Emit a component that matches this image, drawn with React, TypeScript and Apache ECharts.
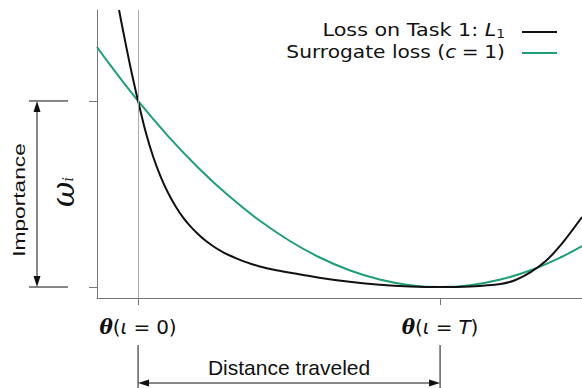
import React, { useEffect, useRef } from 'react';
import * as echarts from 'echarts';

// θ positions (0 = start of training on task, 1 = end T)
const lossX = [-0.063, -0.05, -0.025, 0, 0.025, 0.05, 0.075, 0.1, 0.125, 0.15, 0.175, 0.2, 0.225, 0.25, 0.275, 0.3, 0.325, 0.35, 0.375, 0.4, 0.45, 0.5, 0.6, 0.7, 0.8, 0.9, 1.0, 1.1, 1.2, 1.25, 1.3, 1.35, 1.4, 1.47];
const lossY = [1.489, 1.38, 1.18, 1.0, 0.834, 0.7, 0.592, 0.504, 0.432, 0.372, 0.323, 0.282, 0.247, 0.218, 0.193, 0.172, 0.154, 0.138, 0.124, 0.112, 0.093, 0.078, 0.05, 0.028, 0.012, 0.003, 0, 0.003, 0.016, 0.038, 0.08, 0.14, 0.226, 0.376];
const surrX = [-0.136, -0.1, 0, 0.1, 0.2, 0.3, 0.4, 0.5, 0.6, 0.7, 0.8, 0.9, 1.0, 1.1, 1.2, 1.3, 1.4, 1.47];
const surrY = [1.29, 1.21, 1.0, 0.81, 0.64, 0.49, 0.36, 0.25, 0.16, 0.09, 0.04, 0.01, 0, 0.01, 0.04, 0.09, 0.16, 0.22];
const xTickValues = [0, 1];
const xTickLabels = ['{t|θ}({i|ι}{e|=}0)', '{t|θ}({i|ι}{e|=}{i|T})'];
const yTickValues = [0, 1];
const legendLabels = ['Loss on Task 1: {i|L}{s|1}', 'Surrogate loss ({i|c}{e|=}1)'];
const colors = ['#111111', '#1f9e78'];

const FONT = '"DejaVu Sans", sans-serif';
const SANS = '"Liberation Sans", Arial, sans-serif';
const SERIF = '"DejaVu Serif", serif';

export default function App() {
  const ref = useRef<HTMLDivElement>(null);
  useEffect(() => {
    const chart = echarts.init(ref.current!, null, { renderer: 'svg' });
    const option: any = {
      animation: false,
      grid: { left: 97, right: 0, top: 10, bottom: 90 },
      xAxis: {
        type: 'value', min: -0.136, max: 1.47,
        splitLine: { show: false },
        axisLine: { onZero: false, lineStyle: { color: '#777', width: 1 } },
        axisTick: { customValues: xTickValues, length: 7, lineStyle: { color: '#777' } },
        axisLabel: {
          customValues: xTickValues, margin: 19,
          formatter: (v: number) => xTickLabels[xTickValues.indexOf(v)] ?? '',
          color: '#111', fontSize: 20, fontFamily: FONT,
          rich: {
            t: { fontSize: 20, fontWeight: 'bold', fontStyle: 'italic', fontFamily: SERIF, color: '#111' },
            i: { fontSize: 20, fontStyle: 'italic', fontFamily: FONT, color: '#111' },
            e: { fontSize: 20, fontFamily: FONT, color: '#111', padding: [0, 6, 0, 6] },
          },
        },
      },
      yAxis: {
        type: 'value', min: -0.059, max: 1.489,
        splitLine: { show: false },
        axisLine: { show: true, onZero: false, lineStyle: { color: '#777', width: 1 } },
        axisTick: { customValues: yTickValues, length: 8, lineStyle: { color: '#777' } },
        axisLabel: { show: false },
      },
      series: [
        {
          name: 'Loss on Task 1', type: 'line', showSymbol: false, smooth: 0.3,
          data: lossX.map((x, i) => [x, lossY[i]]),
          lineStyle: { color: colors[0], width: 2 },
          z: 3,
          markLine: {
            silent: true, symbol: 'none', label: { show: false },
            lineStyle: { color: '#aaa', width: 1, type: 'solid' },
            data: [{ xAxis: 0 }],
          },
        },
        {
          name: 'Surrogate loss', type: 'line', showSymbol: false, smooth: 0.4,
          data: surrX.map((x, i) => [x, surrY[i]]),
          lineStyle: { color: colors[1], width: 2 },
          z: 2,
        },
      ],
    };
    chart.setOption(option);

    const p0 = chart.convertToPixel({ gridIndex: 0 }, [0, 0]) as number[];
    const p1 = chart.convertToPixel({ gridIndex: 0 }, [1, 1]) as number[];
    const x0 = p0[0], x1 = p1[0], y0 = p0[1], y1 = p1[1];
    const ink = '#111';
    const ah = 11, aw = 3.5;
    const dy = 383;
    const ax = 37;
    const graphic: any[] = [
      // Distance traveled
      { type: 'line', shape: { x1: x0, y1: 345, x2: x0, y2: 388 }, style: { stroke: ink, lineWidth: 1 } },
      { type: 'line', shape: { x1: x1, y1: 345, x2: x1, y2: 388 }, style: { stroke: ink, lineWidth: 1 } },
      { type: 'line', shape: { x1: x0 + ah, y1: dy, x2: x1 - ah, y2: dy }, style: { stroke: ink, lineWidth: 1 } },
      { type: 'polygon', shape: { points: [[x0, dy], [x0 + ah, dy - aw], [x0 + ah, dy + aw]] }, style: { fill: ink } },
      { type: 'polygon', shape: { points: [[x1, dy], [x1 - ah, dy - aw], [x1 - ah, dy + aw]] }, style: { fill: ink } },
      { type: 'text', x: (x0 + x1) / 2, y: 367, style: { text: 'Distance traveled', fontSize: 21, fontFamily: SANS, fill: ink, align: 'center', verticalAlign: 'middle' } },
      // Importance
      { type: 'line', shape: { x1: 29, y1: y1, x2: 68, y2: y1 }, style: { stroke: ink, lineWidth: 1 } },
      { type: 'line', shape: { x1: 29, y1: y0, x2: 68, y2: y0 }, style: { stroke: ink, lineWidth: 1 } },
      { type: 'line', shape: { x1: ax, y1: y1 + ah, x2: ax, y2: y0 - ah }, style: { stroke: ink, lineWidth: 1 } },
      { type: 'polygon', shape: { points: [[ax, y1], [ax - aw, y1 + ah], [ax + aw, y1 + ah]] }, style: { fill: ink } },
      { type: 'polygon', shape: { points: [[ax, y0], [ax - aw, y0 - ah], [ax + aw, y0 - ah]] }, style: { fill: ink } },
      { type: 'text', x: 19, y: 200, rotation: Math.PI / 2, scaleX: 1.42, style: { text: 'Importance', fontSize: 16, fontFamily: SANS, fill: ink, align: 'center', verticalAlign: 'middle' } },
      { type: 'text', x: 63, y: 192, rotation: Math.PI / 2, style: { text: '{w|ω}{s|i}', fill: ink, align: 'center', verticalAlign: 'middle',
        rich: { w: { fontSize: 31, fontStyle: 'italic', fontFamily: SERIF, fill: ink }, s: { fontSize: 14, fontStyle: 'italic', fontFamily: SERIF, fill: ink, padding: [10, 0, 0, 0] } } } },
      // Legend
      { type: 'text', x: 505, y: 30, scaleX: 1.15, style: { text: legendLabels[0], fontSize: 18, fontFamily: FONT, fill: ink, align: 'right', verticalAlign: 'middle',
        rich: { i: { fontSize: 18, fontStyle: 'italic', fontFamily: FONT, fill: ink }, s: { fontSize: 12, fontFamily: FONT, fill: ink, padding: [8, 0, 0, 0] } } } },
      { type: 'line', shape: { x1: 522, y1: 32, x2: 557, y2: 32 }, style: { stroke: colors[0], lineWidth: 2 } },
      { type: 'text', x: 505, y: 52, scaleX: 1.12, style: { text: legendLabels[1], fontSize: 18, fontFamily: FONT, fill: ink, align: 'right', verticalAlign: 'middle',
        rich: { i: { fontSize: 18, fontStyle: 'italic', fontFamily: FONT, fill: ink }, e: { fontSize: 18, fontFamily: FONT, fill: ink, padding: [0, 5, 0, 5] } } } },
      { type: 'line', shape: { x1: 522, y1: 53, x2: 557, y2: 53 }, style: { stroke: colors[1], lineWidth: 2 } },
    ];
    chart.setOption({ graphic });
    return () => chart.dispose();
  }, []);
  return <div ref={ref} style={{ position: 'absolute', left: 0, top: 0, width: 582, height: 388, background: '#fff' }} />;
}
